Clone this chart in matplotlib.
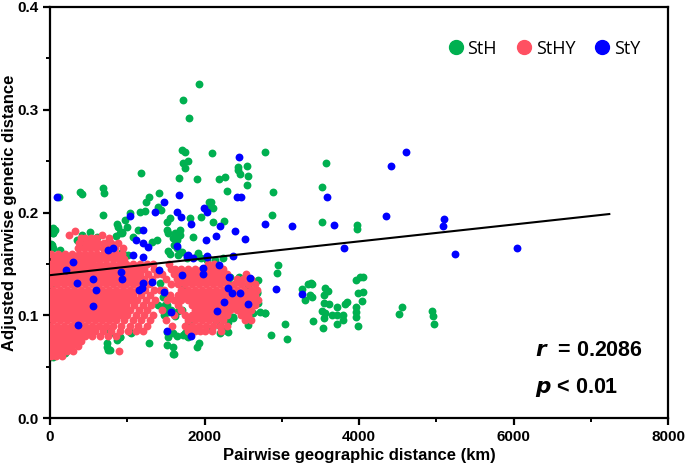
import matplotlib
matplotlib.use("Agg")
import matplotlib.pyplot as plt
from matplotlib.lines import Line2D

# ---------------- data (km, adjusted genetic distance) ----------------
sty_x = [87, 2450, 1673, 1475, 1363, 1643, 1695, 1993, 2036, 2416, 2476, 3580, 1035, 1207,
         1821, 2200, 2148, 2398, 2527, 2782, 3127, 3679, 2015, 1109, 4610, 4410, 4350, 5094,
         5081, 3800, 5237, 6039, 1207, 1272, 1078, 755, 819, 1639, 1207, 302, 207, 353, 358,
         560, 591, 552, 914, 927, 1156, 1186, 1199, 1324, 1415, 1475, 1566, 1510, 1704, 1790,
         1846, 1821, 1976, 1984, 2036, 2165, 2191, 2252, 2320, 2307, 2359, 2364, 2459, 2566,
         2588, 2924, 3265, 1769, 2028]
sty_y = [0.2148, 0.2543, 0.2170, 0.2105, 0.2008, 0.2008, 0.1959, 0.2041, 0.2008, 0.2148, 0.2148,
         0.2148, 0.1966, 0.1830, 0.1888, 0.1872, 0.1774, 0.1820, 0.1742, 0.1888, 0.1869, 0.1878,
         0.1732, 0.1732, 0.2590, 0.2455, 0.1966, 0.1937, 0.1866, 0.1655, 0.1593, 0.1655, 0.1700,
         0.1667, 0.1586, 0.1635, 0.1652, 0.1674, 0.1570, 0.1520, 0.1440, 0.1317, 0.0905, 0.1353,
         0.1246, 0.1093, 0.1424, 0.1350, 0.1246, 0.1262, 0.1317, 0.1327, 0.1440, 0.1229, 0.1035,
         0.0850, 0.1392, 0.1586, 0.1554, 0.0801, 0.1457, 0.1398, 0.1564, 0.1044, 0.1489, 0.1132,
         0.1375, 0.1262, 0.1213, 0.1577, 0.1213, 0.1110, 0.1365, 0.1255, 0.1204, 0.1577, 0.1577]

sth_pts = [
    (1928, 0.3248), (1725, 0.3095), (1803, 0.2917), (1708, 0.2605), (1747, 0.2586), (1721, 0.2485),
    (1782, 0.2504), (1747, 0.2430), (2092, 0.2576), (2782, 0.2586), (1673, 0.2339), (1898, 0.2326),
    (2183, 0.2326), (2269, 0.2345), (2429, 0.2446), (2437, 0.2414), (2459, 0.2375), (2545, 0.2455),
    (2566, 0.2355), (2553, 0.2268), (2287, 0.2209), (2881, 0.2197), (2877, 0.1976), (3524, 0.2245),
    (3567, 0.2485), (3524, 0.1910), (1173, 0.2387), (682, 0.2235), (699, 0.2193), (388, 0.2203),
    (414, 0.2177), (121, 0.2148), (690, 0.1976), (1410, 0.2187), (1281, 0.2148), (1238, 0.2099),
    (1393, 0.2051), (1432, 0.2024), (1165, 0.2008), (1229, 0.2015), (1035, 0.1998), (970, 0.1927),
    (992, 0.1862), (863, 0.1888), (1553, 0.1943), (1518, 0.1910), (1523, 0.1803), (1682, 0.1830),
    (1812, 0.1943), (1954, 0.1953), (2057, 0.2104), (2083, 0.2107), (2070, 0.2066), (2105, 0.2040),
    (2113, 0.1910), (2252, 0.1917), (35, 0.1797), (65, 0.1830), (1846, 0.1759), (1143, 0.1830),
    (3973, 0.1875), (3973, 0.1837), (1919, 0.1603), (884, 0.1856), (906, 0.1797), (935, 0.1813),
    (43, 0.1846), (13, 0.1693), (43, 0.1652), (410, 0.1749), (444, 0.1716), (733, 0.1706),
    (927, 0.1620), (1013, 0.1590), (1315, 0.1716), (1380, 0.1732), (1510, 0.1830), (1639, 0.1780),
    (1639, 0.1732), (1639, 0.1652), (1523, 0.1628),
    (3386, 0.1304), (3364, 0.1197), (3558, 0.1268), (3593, 0.1239), (3550, 0.1197), (3542, 0.1116),
    (3606, 0.1106), (3520, 0.1044), (3563, 0.1019), (3542, 0.0970), (3645, 0.1002), (3710, 0.1002),
    (3796, 0.1002), (3817, 0.1110), (3796, 0.0954), (3710, 0.0912), (3537, 0.0873), (3407, 0.0944),
    (3960, 0.1343), (4011, 0.1369), (4046, 0.1375), (3981, 0.1214), (4054, 0.1223), (4033, 0.1142),
    (3960, 0.1083), (3960, 0.1035), (3960, 0.0986), (3990, 0.0895), (4551, 0.1083), (4520, 0.1009),
    (4939, 0.1041), (4952, 0.0993), (4969, 0.0915), (2954, 0.1489), (2933, 0.1414), (3041, 0.0912),
    (3063, 0.0769), (2856, 0.0805), (2782, 0.1019), (3257, 0.1253), (3343, 0.1301), (3377, 0.1311),
    (3300, 0.1148), (3386, 0.1181), (3710, 0.1080), (3839, 0.1130),
    (22, 0.1680), (43, 0.1800), (43, 0.1330), (0, 0.0890), (20, 0.0860), (43, 0.0597), (194, 0.0630),
    (733, 0.0727), (755, 0.0662), (733, 0.0873), (776, 0.0824), (906, 0.0791), (1035, 0.0840),
    (1281, 0.0733), (1510, 0.0710), (1531, 0.0791), (1609, 0.0620), (1639, 0.0798), (1769, 0.0798),
    (1833, 0.0889), (1898, 0.0694), (1932, 0.0727), (2200, 0.0824), (2243, 0.0856), (2287, 0.1002),
    (2372, 0.0970), (2459, 0.1051), (2566, 0.1019), (2631, 0.1180), (2674, 0.1229), (2695, 0.1343),
    (1553, 0.1600), (1600, 0.1680), (1650, 0.1750), (1620, 0.1800), (1590, 0.1750), (1680, 0.1780),
    (1423, 0.1310), (1460, 0.1180), (1490, 0.1100), (1531, 0.1030), (1902, 0.1580), (1960, 0.1560),
    (2031, 0.1540), (2329, 0.1370), (2300, 0.1310), (2450, 0.1370), (2566, 0.1280), (930, 0.1800),
    (860, 0.1770), (1080, 0.1760), (349, 0.1730), (414, 0.1780), (517, 0.1810), (608, 0.1760),
    (2287, 0.1310), (2329, 0.1213), (2372, 0.0986), (2308, 0.0937), (2265, 0.0856), (2308, 0.0840),
    (2566, 0.0905), (2695, 0.1116), (2674, 0.1213), (2631, 0.1019), (1855, 0.0954), (1769, 0.0905),
    (1747, 0.0824), (1790, 0.0791), (1704, 0.1051), (1900, 0.1150), (1940, 0.1100), (1682, 0.1310),
    (1725, 0.1246), (1769, 0.1560), (2135, 0.1540), (2243, 0.1560), (2717, 0.1035), (2782, 0.1025),
    (0, 0.1330), (20, 0.1310), (0, 0.0940), (0, 0.0840), (0, 0.0597), (906, 0.0790), (863, 0.0760),
    (776, 0.0660), (733, 0.0690), (1048, 0.0830), (1510, 0.1100), (1560, 0.1050), (1620, 0.0990),
    (1660, 0.1040), (1596, 0.0824), (1510, 0.0840), (1596, 0.0694), (1596, 0.0620), (1725, 0.0808),
    (108, 0.1590), (129, 0.1635), (1660, 0.1590), (1704, 0.1620), (992, 0.1460), (2150, 0.0950),
    (2200, 0.0900), (2100, 0.0880), (1450, 0.1250), (1480, 0.1000), (1400, 0.1100),
]
sth_x = [p[0] for p in sth_pts]
sth_y = [p[1] for p in sth_pts]

# StHY points, read row by row (y value, x positions in km)
sthy_rows = [
    (0.182, [323]),
    (0.178, [250, 669]),
    (0.175, [400, 453, 527, 600, 760]),
    (0.170, [380, 460, 540, 620, 700, 790, 880]),
    (0.165, [360, 440, 520, 600, 680, 760, 840, 949]),
    (0.160, [10, 100, 190, 280, 370, 450, 530, 610, 690, 770, 850, 930]),
    (0.155, [50, 140, 230, 320, 410, 490, 570, 650, 730, 810, 890, 960]),
    (0.150, [0, 90, 180, 270, 360, 450, 540, 630, 720, 810, 900, 990, 1080, 1170, 1260, 1337, 2050, 2120]),
    (0.145, [40, 130, 220, 310, 400, 490, 580, 670, 760, 850, 940, 1030, 1120, 1220, 1340,
             1700, 1790, 1880, 1970, 2060, 2150, 2240]),
    (0.140, [0, 90, 180, 270, 360, 450, 540, 630, 720, 810, 900, 990, 1080, 1170, 1270, 1380,
             1660, 1750, 1840, 1930, 2020, 2110, 2200, 2290, 2540]),
    (0.135, [40, 130, 220, 310, 400, 490, 580, 670, 760, 850, 940, 1030, 1120, 1220, 1320,
             1700, 1790, 1880, 1970, 2060, 2150, 2240, 2420, 2500, 2600]),
    (0.130, [0, 90, 180, 270, 360, 450, 540, 630, 720, 810, 900, 990, 1080, 1170, 1280,
             1660, 1750, 1840, 1930, 2020, 2110, 2200, 2290, 2380, 2470, 2560, 2650]),
    (0.125, [40, 130, 220, 310, 400, 490, 580, 670, 760, 850, 940, 1030, 1120, 1230, 1340,
             1700, 1790, 1880, 1970, 2060, 2150, 2240, 2330, 2420, 2510, 2600, 2680]),
    (0.120, [0, 90, 180, 270, 360, 450, 540, 630, 720, 810, 900, 990, 1080, 1180, 1290,
             1660, 1750, 1840, 1930, 2020, 2110, 2200, 2290, 2380, 2470, 2560, 2650]),
    (0.115, [40, 130, 220, 310, 400, 490, 580, 670, 760, 850, 940, 1030, 1130, 1240, 1360,
             1700, 1790, 1880, 1970, 2060, 2150, 2240, 2330, 2420, 2510, 2600, 2690]),
    (0.110, [0, 90, 180, 270, 360, 450, 540, 630, 720, 810, 900, 990, 1090, 1200, 1310,
             1660, 1840, 1930, 2020, 2110, 2200, 2290, 2380, 2470, 2560, 2650]),
    (0.105, [40, 130, 220, 310, 400, 490, 580, 670, 760, 850, 940, 1040, 1150, 1260,
             1700, 1880, 1970, 2060, 2150, 2240, 2330, 2420, 2510, 2600]),
    (0.100, [0, 90, 180, 270, 360, 450, 540, 630, 720, 810, 900, 1000, 1110, 1220, 1330,
             1750, 1840, 1930, 2020, 2110, 2200, 2290, 2470, 2560]),
    (0.095, [40, 130, 220, 310, 400, 490, 580, 670, 760, 860, 960, 1070, 1180, 1290,
             1790, 1880, 1970, 2060, 2150, 2240, 2520, 2600]),
    (0.090, [0, 90, 180, 270, 360, 450, 540, 630, 720, 820, 920, 1030, 1140, 1250,
             1750, 1840, 1930, 2020, 2110, 2200, 2290]),
    (0.085, [40, 130, 220, 310, 400, 490, 580, 680, 790, 900, 1010, 1110, 1210,
             1790, 1880, 1937, 2010, 2100, 2220]),
    (0.080, [0, 90, 180, 270, 360, 450, 550, 650, 750, 850]),
    (0.075, [40, 130, 220, 310, 400]),
    (0.070, [0, 90, 180, 270, 360]),
    (0.065, [40, 130, 220, 300, 893]),
    (0.060, [10, 80, 160]),
    # sparser points between the two clusters
    (0.145, [1620, 1560]), (0.150, [1540]), (0.140, [1450, 1600]), (0.135, [1500, 1650]),
    (0.130, [1560]), (0.125, [1470, 1420]), (0.120, [1550]), (0.115, [1520, 1600]),
    (0.105, [1450]), (0.100, [1600]), (0.095, [1500]), (0.090, [1580]),
]
sthy_x = [x for y, xs in sthy_rows for x in xs]
sthy_y = [y for y, xs in sthy_rows for x in xs]

fit_x = [0, 7240]
fit_y = [0.139, 0.1985]

series_names = ["StH", "StHY", "StY"]
series_colors = ["#00B050", "#FF5062", "#0000FF"]

# ---------------- figure ----------------
plt.rcParams['font.family'] = ['Liberation Sans', 'DejaVu Sans']
fig = plt.figure(figsize=(6.85, 4.67), dpi=100)
ax = fig.add_axes([50/685, 49/467, 618/685, 411/467])

ms = 32
ax.scatter(sth_x, sth_y, s=ms, color=series_colors[0], linewidths=0, zorder=2)
ax.scatter(sthy_x, sthy_y, s=ms, color=series_colors[1], linewidths=0, zorder=3)
ax.scatter(sty_x, sty_y, s=ms, color=series_colors[2], linewidths=0, zorder=4)
ax.plot(fit_x, fit_y, color="black", lw=1.5, zorder=5)

ax.set_xlim(0, 8000)
ax.set_ylim(0, 0.4)
ax.set_xticks([0, 2000, 4000, 6000, 8000])
ax.set_xticks([1000, 3000, 5000, 7000], minor=True)
ax.set_yticks([0.0, 0.1, 0.2, 0.3, 0.4])
ax.set_yticks([0.05, 0.15, 0.25, 0.35], minor=True)
ax.set_yticklabels(["0.0", "0.1", "0.2", "0.3", "0.4"])
for s in ax.spines.values():
    s.set_linewidth(1.6)
ax.tick_params(which="major", length=5, width=1.6, direction="out", labelsize=11)
ax.tick_params(which="minor", length=3, width=1.4, direction="out")
for lab in ax.get_xticklabels() + ax.get_yticklabels():
    lab.set_fontweight("bold")

ax.set_xlabel("Pairwise geographic distance (km)", fontsize=12, fontweight="bold", labelpad=3)
ax.set_ylabel("Adjusted pairwise genetic distance", fontsize=12, fontweight="bold")
ax.yaxis.set_label_coords(-0.054, 0.5)

ax.text(0.785, 0.150, r"$\mathbfit{r}$  = 0.2086", transform=ax.transAxes, fontsize=15.5,
        fontweight="bold", ha="left", va="baseline")
ax.text(0.785, 0.060, r"$\mathbfit{p}$ < 0.01", transform=ax.transAxes, fontsize=15.5,
        fontweight="bold", ha="left", va="baseline")

handles = [Line2D([], [], marker="o", ls="", color=c, markersize=10) for c in series_colors]
leg = ax.legend(handles, series_names, ncol=3, frameon=False, loc="upper right",
                bbox_to_anchor=(0.967, 0.938), handletextpad=0.05, columnspacing=0.9,
                handlelength=1.2, borderaxespad=0, prop={"family": "Open Sans", "size": 13})

fig.savefig("out.png", dpi=100)
